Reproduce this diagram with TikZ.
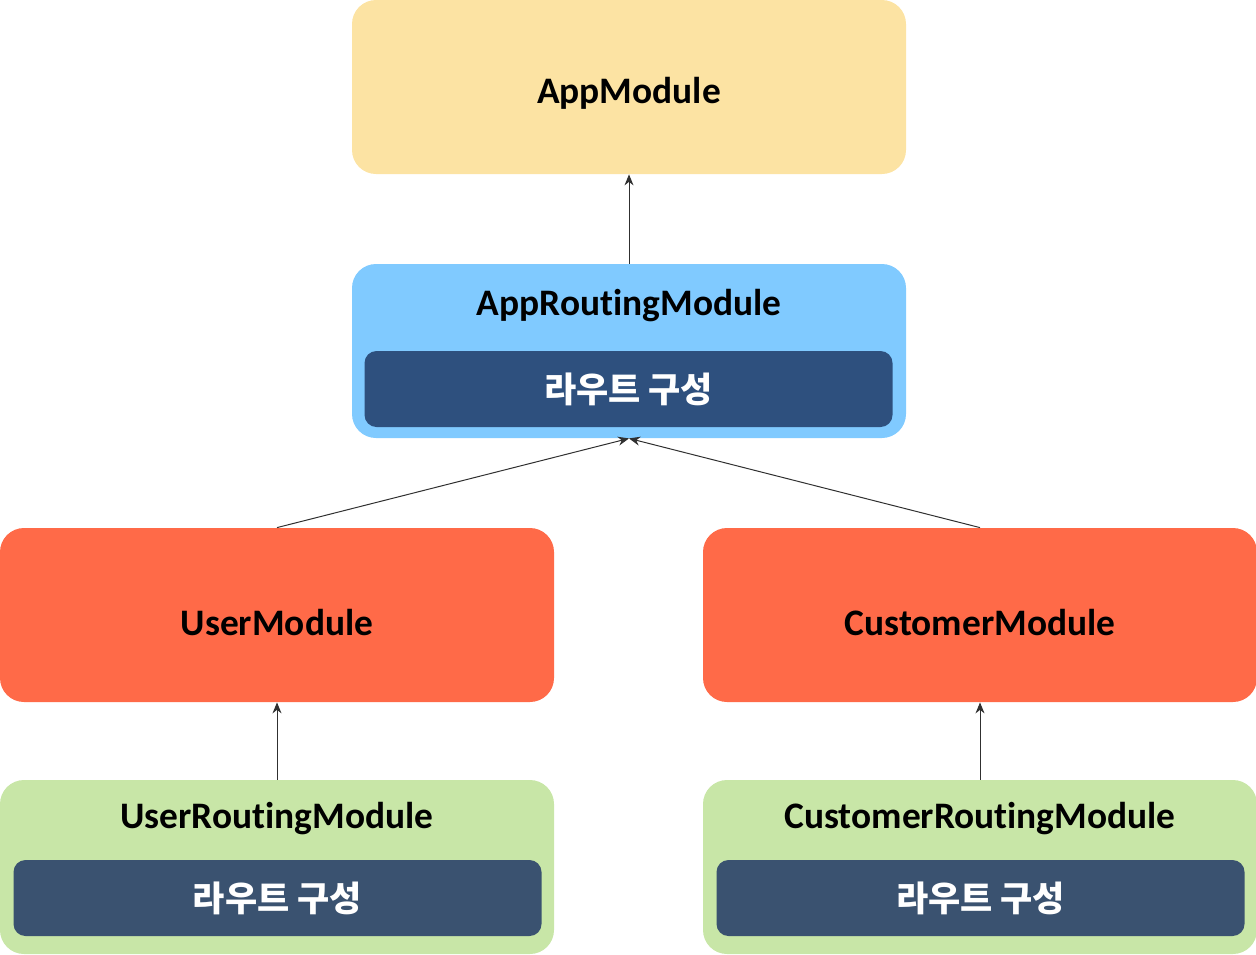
\documentclass[tikz,border=0pt]{standalone}
\usepackage{fontspec}
\setmainfont{Carlito}[Ligatures=NoCommon]
\newfontfamily\kofont{Noto Sans CJK KR}
\usetikzlibrary{arrows.meta}

\definecolor{appyellow}{HTML}{FCE3A3}
\definecolor{routeblue}{HTML}{80CAFF}
\definecolor{modorange}{HTML}{FF6A48}
\definecolor{routegreen}{HTML}{C8E6A7}
\definecolor{navytop}{HTML}{2E507E}
\definecolor{navybot}{HTML}{3A5270}
\definecolor{linegray}{HTML}{303030}

\begin{document}
\begin{tikzpicture}[x=0.5pt,y=-0.5pt,
  box/.style={rounded corners=12pt, minimum width=277pt, minimum height=87pt, inner sep=0pt},
  title/.style={inner sep=0pt, font=\bfseries\fontsize{18.7}{22}\selectfont},
  inbox/.style={rounded corners=6pt, minimum width=264pt, minimum height=38pt, inner sep=0pt, text=white, font=\kofont\bfseries\fontsize{17.5}{22}\selectfont},
  link/.style={draw=linegray, line width=0.5pt, -{Stealth[length=5.5pt,width=4.5pt]}}]
\useasboundingbox (0,0) rectangle (1256,954);

% top
\node[box, fill=appyellow] (app) at (629,87) {};
\node[title] (apptitle) at (629,93) {AppModule};
\node[box, fill=routeblue] (approute) at (629,351) {};
\node[title] (approutetitle) at (629,306) {AppRoutingModule};
\node[inbox, fill=navytop] (approutecfg) at (628.5,389) {라우트 구성};

% two feature columns
\foreach \name/\label/\x in {user/User/277, cust/Customer/980} {
\node[box, fill=modorange] (\name) at (\x,615) {};
\node[title] (\name title) at (\x,622) {\label Module};
\node[box, fill=routegreen] (\name route) at (\x,867) {};
\node[title] (\name routetitle) at (\x,819) {\label RoutingModule};
\node[inbox, fill=navybot] (\name routecfg) at (\x+0.5,898) {라우트 구성};
}

\draw[link] (approute) -- (app);
\draw[link] (user.north) -- (approute.south);
\draw[link] (cust.north) -- (approute.south);
\draw[link] (userroute) -- (user);
\draw[link] (custroute) -- (cust);
\end{tikzpicture}
\end{document}
